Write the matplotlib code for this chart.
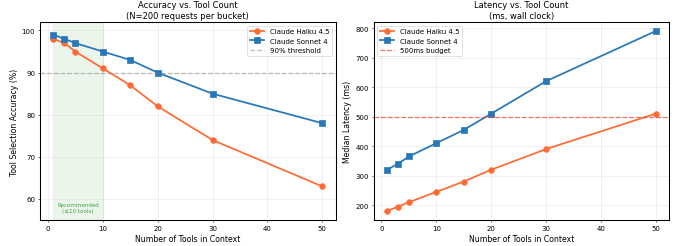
# Tool count vs accuracy / latency

import numpy as np
import matplotlib.pyplot as plt

# Data
tools = [1, 3, 5, 10, 15, 20, 30, 50]
accHaiku = [98, 97, 95, 91, 87, 82, 74, 63]
accSonnet = [99, 98, 97, 95, 93, 90, 85, 78]
latHaiku = [180, 195, 210, 245, 280, 320, 390, 510]
latSonnet = [320, 340, 365, 410, 455, 510, 620, 790]

orange = '#FF6B35'
blue = '#2878B8'

fig, (ax1, ax2) = plt.subplots(1, 2, figsize=(13.4, 4.88))

# Accuracy
ax1.axvspan(1, 10, color='green', alpha=0.08)
ax1.plot(tools, accHaiku, 'o-', color=orange, lw=2.5, ms=8, label='Claude Haiku 4.5')
ax1.plot(tools, accSonnet, 's-', color=blue, lw=2.5, ms=8, label='Claude Sonnet 4')
ax1.axhline(90, color='gray', ls='--', lw=1.8, alpha=0.5, label='90% threshold')
ax1.text(5.5, 58, 'Recommended\n(≤10 tools)', ha='center', va='center',
         fontsize=8, color='green', alpha=0.7)
ax1.set_ylim(55, 102)
ax1.set_xlabel('Number of Tools in Context', fontsize=11)
ax1.set_ylabel('Tool Selection Accuracy (%)', fontsize=11)
ax1.set_title('Accuracy vs. Tool Count\n(N=200 requests per bucket)', fontsize=12)
ax1.legend(loc='upper right', fontsize=10)
ax1.grid(alpha=0.3)

# Latency
ax2.plot(tools, latHaiku, 'o-', color=orange, lw=2.5, ms=8, label='Claude Haiku 4.5')
ax2.plot(tools, latSonnet, 's-', color=blue, lw=2.5, ms=8, label='Claude Sonnet 4')
ax2.axhline(500, color='#F03C28', ls='--', alpha=0.7, lw=1.8, label='500ms budget')
ax2.set_xlabel('Number of Tools in Context', fontsize=11)
ax2.set_ylabel('Median Latency (ms)', fontsize=11)
ax2.set_title('Latency vs. Tool Count\n(ms, wall clock)', fontsize=12)
ax2.legend(loc='upper left', fontsize=10)
ax2.grid(alpha=0.3)

for ax in (ax1, ax2):
    ax.tick_params(labelsize=10)
    for s in ax.spines.values():
        s.set_linewidth(1.5)

plt.subplots_adjust(left=0.059, right=0.987, top=0.907, bottom=0.105, wspace=0.128)
plt.savefig('out.png', dpi=678/13.4)
